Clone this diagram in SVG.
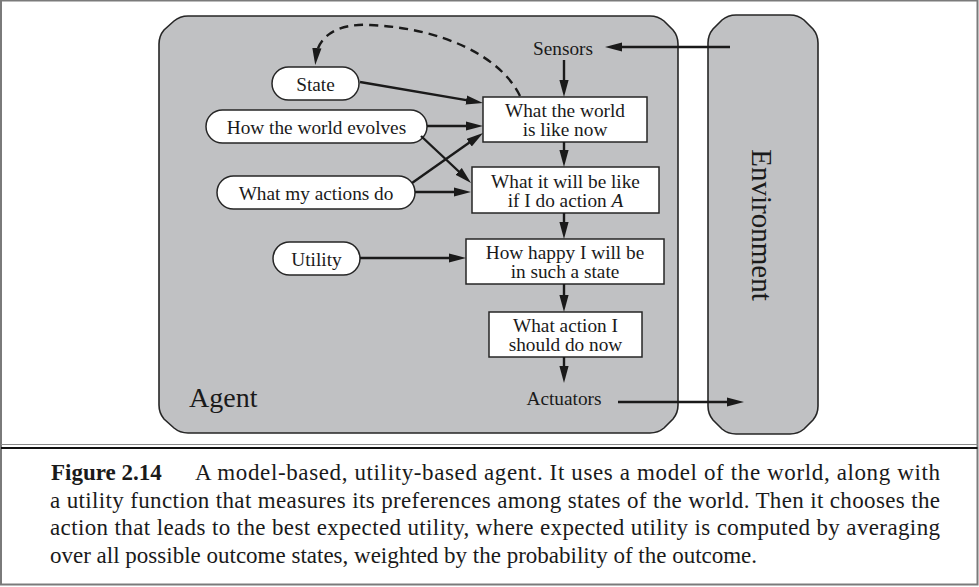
<svg xmlns="http://www.w3.org/2000/svg" width="979" height="587" viewBox="0 0 979 587">
  <style>
    .lbl { font-family: "Liberation Serif", "Times New Roman", serif; fill: #1a1a1a; }
    .node { font-size: 19.3px; text-anchor: middle; }
    .cap { font-size: 23px; }
    .shell { fill: #c0c1c3; stroke: #262626; stroke-width: 1.6; }
    .pill { fill: #ffffff; stroke: #262626; stroke-width: 1.5; }
    .box { fill: #ffffff; stroke: #262626; stroke-width: 1.5; }
    .wire { fill: none; stroke: #1a1a1a; stroke-width: 2.4; marker-end: url(#ah); }
    .dash { stroke-dasharray: 9 6; }
  </style>
  <defs>
    <marker id="ah" markerWidth="18" markerHeight="11" refX="9" refY="5" orient="auto" markerUnits="userSpaceOnUse">
      <path d="M0,0.4 L17,5 L0,9.6 Z" fill="#1a1a1a"/>
    </marker>
  </defs>

  <!-- page frame -->
  <rect x="1" y="0.5" width="976.5" height="584" fill="#ffffff" stroke="#7a7a7a" stroke-width="2"/>
  <line x1="1" y1="444.5" x2="977.5" y2="444.5" stroke="#8a8a8a" stroke-width="1.2"/>
  <line x1="1" y1="448" x2="977.5" y2="448" stroke="#111111" stroke-width="1.8"/>

  <!-- agent container -->
  <g id="agent">
    <path class="shell" d="M159,44 Q159,36 164,30 L174,21 Q180,16 188,16 L650,16 Q658,16 664,21 L673,30 Q678,36 678,44 L678,405 Q678,413 673,419 L664,428 Q658,433 650,433 L188,433 Q180,433 174,428 L164,419 Q159,413 159,405 Z"/>
    <text class="lbl" x="189" y="407" font-size="28">Agent</text>
  </g>

  <!-- environment container -->
  <g id="environment">
    <path class="shell" d="M708,43 Q708,35 713,29 L722,20 Q728,15 736,15 L790,15 Q798,15 804,20 L813,29 Q818,35 818,43 L818,406 Q818,414 813,420 L804,429 Q798,434 790,434 L736,434 Q728,434 722,429 L713,420 Q708,414 708,406 Z"/>
    <text class="lbl" font-size="29" text-anchor="middle" transform="translate(752,225) rotate(90)">Environment</text>
  </g>

  <!-- plain labels -->
  <g id="sensors"><text class="lbl node" x="563" y="55">Sensors</text></g>
  <g id="actuators"><text class="lbl node" x="564" y="405">Actuators</text></g>

  <!-- model inputs -->
  <g id="state">
    <rect class="pill" x="272" y="67" width="87" height="33" rx="16.5"/>
    <text class="lbl node" x="315.5" y="90.5">State</text>
  </g>
  <g id="world-evolves">
    <rect class="pill" x="206" y="110" width="221" height="33" rx="16.5"/>
    <text class="lbl node" x="316.5" y="134">How the world evolves</text>
  </g>
  <g id="actions-do">
    <rect class="pill" x="217" y="176" width="198" height="33" rx="16.5"/>
    <text class="lbl node" x="316" y="200">What my actions do</text>
  </g>
  <g id="utility">
    <rect class="pill" x="273" y="242" width="87" height="33" rx="16.5"/>
    <text class="lbl node" x="316.5" y="265.5">Utility</text>
  </g>

  <!-- reasoning chain -->
  <g id="world-now">
    <rect class="box" x="483" y="97" width="164" height="45"/>
    <text class="lbl node" x="565" y="117">What the world</text>
    <text class="lbl node" x="565" y="136">is like now</text>
  </g>
  <g id="will-be-like">
    <rect class="box" x="472" y="167" width="187" height="46"/>
    <text class="lbl node" x="565.5" y="188">What it will be like</text>
    <text class="lbl node" x="565.5" y="206.5">if I do action <tspan font-style="italic">A</tspan></text>
  </g>
  <g id="how-happy">
    <rect class="box" x="466" y="239" width="198" height="45"/>
    <text class="lbl node" x="565" y="259">How happy I will be</text>
    <text class="lbl node" x="565" y="277.5">in such a state</text>
  </g>
  <g id="what-action">
    <rect class="box" x="489" y="312" width="153" height="45"/>
    <text class="lbl node" x="565.5" y="331.5">What action I</text>
    <text class="lbl node" x="565.5" y="350.5">should do now</text>
  </g>

  <!-- connectors -->
  <g id="connectors">
    <path class="wire" d="M730,47 L613,47"/>
    <path class="wire" d="M564,60 L564,89"/>
    <path class="wire" d="M564,142 L564,159"/>
    <path class="wire" d="M564,213 L564,231"/>
    <path class="wire" d="M564,284 L564,304"/>
    <path class="wire" d="M564,357 L564,375"/>
    <path class="wire" d="M618,402 L736,402"/>
    <path class="wire" d="M360,82 L475.1,101.6"/>
    <path class="wire" d="M427,126 L475,126"/>
    <path class="wire" d="M421,136 L465.2,177.5"/>
    <path class="wire" d="M412,183 L476.5,137.6"/>
    <path class="wire" d="M415,192 L463,192"/>
    <path class="wire" d="M360,258 L458,258"/>
    <path class="wire dash" d="M520,96 C500,55 440,28 370,25 C338,23 318,36 316,57"/>
  </g>

  <!-- caption -->
  <g id="caption">
    <text class="lbl cap" x="51" y="480" font-weight="bold">Figure 2.14</text>
    <text class="lbl cap" x="195" y="480" textLength="745" lengthAdjust="spacing">A model-based, utility-based agent. It uses a model of the world, along with</text>
    <text class="lbl cap" x="50" y="507.5" textLength="890" lengthAdjust="spacing">a utility function that measures its preferences among states of the world. Then it chooses the</text>
    <text class="lbl cap" x="50" y="535" textLength="890" lengthAdjust="spacing">action that leads to the best expected utility, where expected utility is computed by averaging</text>
    <text class="lbl cap" x="50" y="562.5">over all possible outcome states, weighted by the probability of the outcome.</text>
  </g>
</svg>
